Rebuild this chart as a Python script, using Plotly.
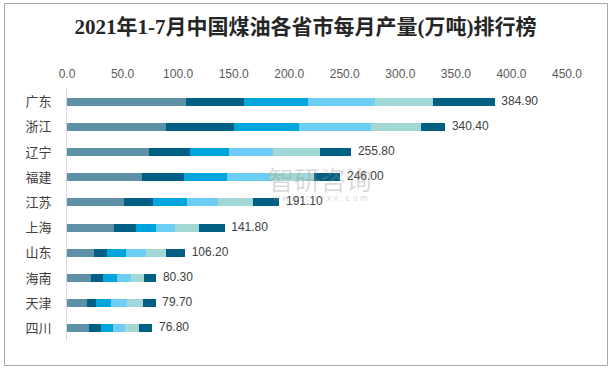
import plotly.graph_objects as go

provinces = ["广东", "浙江", "辽宁", "福建", "江苏", "上海", "山东", "海南", "天津", "四川"]
months = ["1-2月", "3月", "4月", "5月", "6月", "7月"]
m_1_2 = [107.5, 88.7, 73.5, 67.2, 51.0, 42.0, 24.0, 21.3, 17.7, 19.5]
m_3 = [52.1, 62.0, 36.8, 37.7, 26.1, 19.8, 11.7, 10.8, 8.1, 10.8]
m_4 = [57.6, 58.5, 35.1, 38.7, 30.5, 18.0, 17.1, 12.6, 13.5, 10.8]
m_5 = [60.2, 64.7, 39.6, 38.7, 27.9, 17.1, 18.0, 12.6, 14.4, 10.8]
m_6 = [52.2, 45.0, 43.1, 40.4, 31.5, 21.6, 18.0, 11.7, 14.4, 12.6]
m_7 = [55.3, 21.5, 27.7, 23.3, 24.1, 23.3, 17.4, 11.3, 11.6, 12.3]
totals = [384.90, 340.40, 255.80, 246.00, 191.10, 141.80, 106.20, 80.30, 79.70, 76.80]
x_ticks = [0, 50, 100, 150, 200, 250, 300, 350, 400, 450]

series = [m_1_2, m_3, m_4, m_5, m_6, m_7]
colors = ["#5E90A7", "#005F83", "#00A5DE", "#6CCEF5", "#A1D7D4", "#005F83"]

fig = go.Figure()
for name, vals, c in zip(months, series, colors):
    fig.add_trace(go.Bar(
        y=provinces, x=vals, name=name, orientation="h",
        marker=dict(color=c, line=dict(width=0)),
        hoverinfo="x+y+name",
    ))

fig.add_trace(go.Scatter(
    y=provinces, x=totals, mode="text",
    text=[f"  {t:.2f}" for t in totals],
    textposition="middle right",
    textfont=dict(family="Liberation Sans, Arial, sans-serif", size=12, color="#404040"),
    showlegend=False, hoverinfo="skip", cliponaxis=False,
))

pw, ph = 500, 252
ml, mt = 67, 89

def px(x):
    return (x - ml) / pw

def py(y):
    return (mt + ph - y) / ph

fig.update_layout(
    width=611, height=370,
    margin=dict(l=ml, r=611 - ml - pw, t=mt, b=370 - mt - ph, autoexpand=False),
    paper_bgcolor="white", plot_bgcolor="white",
    barmode="stack", bargap=0.68,
    showlegend=False,
    title=dict(
        text="<b>2021年1-7月中国煤油各省市每月产量(万吨)排行榜</b>",
        x=0.5, xanchor="center", y=1 - 27 / 370, yanchor="middle", yref="container",
        font=dict(family="Liberation Serif, Noto Sans CJK SC, serif", size=21, color="#262626"),
    ),
    xaxis=dict(
        side="top", range=[0, 450], tickvals=x_ticks,
        ticktext=[f"{v:.1f}" for v in x_ticks],
        showgrid=False, zeroline=False, showline=False, ticks="",
        tickfont=dict(family="Liberation Sans, Arial, sans-serif", size=12, color="#595959"),
        fixedrange=True, automargin=False, ticklabelstandoff=8,
    ),
    yaxis=dict(
        autorange="reversed", showgrid=False, zeroline=False,
        showline=True, linecolor="#D9D9D9", linewidth=1,
        ticks="", ticklabelstandoff=12,
        tickfont=dict(family="Noto Sans CJK SC, sans-serif", size=13, color="#404040"),
        fixedrange=True, automargin=False,
    ),
    shapes=[dict(
        type="rect", xref="paper", yref="paper",
        x0=px(4.5), x1=px(607.5), y0=py(365.5), y1=py(3.5),
        line=dict(color="#A6A6A6", width=1), fillcolor="rgba(0,0,0,0)", layer="below",
    )],
    annotations=[
        dict(text="智研咨询", xref="paper", yref="paper", x=px(320), y=py(178),
             showarrow=False, xanchor="center", yanchor="middle",
             font=dict(family="Noto Sans CJK SC, sans-serif", size=26, color="rgba(150,150,150,0.35)")),
        dict(text="w w w . c h y x x . c o m", xref="paper", yref="paper", x=px(320), y=py(198),
             showarrow=False, xanchor="center", yanchor="middle",
             font=dict(family="Liberation Sans, sans-serif", size=9, color="rgba(150,150,150,0.4)")),
    ],
)

fig.write_html(
    "out.html",
    config={"displayModeBar": False},
    post_script="document.body.style.margin='0';document.body.style.padding='0';",
)
